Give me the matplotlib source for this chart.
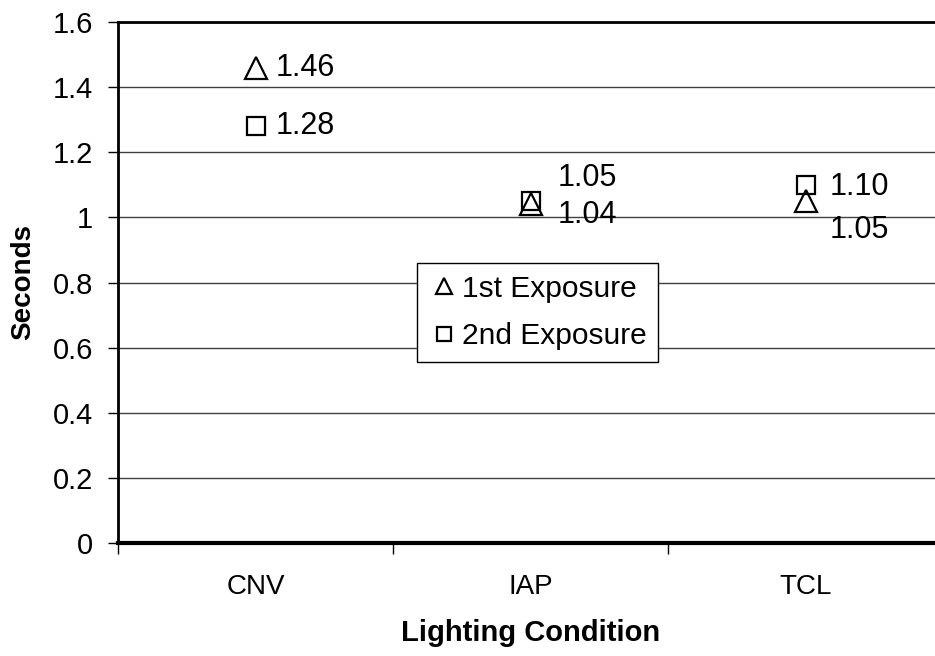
import matplotlib
matplotlib.use("Agg")
import matplotlib.pyplot as plt

plt.rcParams["font.family"] = ["Liberation Sans", "DejaVu Sans"]

conditions = ["CNV", "IAP", "TCL"]
first_exposure = [1.46, 1.04, 1.05]
second_exposure = [1.28, 1.05, 1.10]
y_ticks = [0, 0.2, 0.4, 0.6, 0.8, 1, 1.2, 1.4, 1.6]
y_tick_labels = ["0", "0.2", "0.4", "0.6", "0.8", "1", "1.2", "1.4", "1.6"]

W, H = 935, 656
fig = plt.figure(figsize=(W / 100, H / 100), dpi=100)
ax = fig.add_axes([118 / W, (H - 543) / H, (943 - 118) / W, (543 - 22) / H])

xs = list(range(len(conditions)))

ax.plot(xs, second_exposure, linestyle="none", marker="s", markersize=13,
        markerfacecolor="white", markeredgecolor="black", markeredgewidth=1.6,
        label="2nd Exposure", zorder=3)
ax.plot(xs, first_exposure, linestyle="none", marker="^", markersize=16,
        markerfacecolor="none", markeredgecolor="black", markeredgewidth=1.6,
        label="1st Exposure", zorder=4)

# data labels (offsets in pixels, mimic Excel placement)
first_offsets = [(20, 0), (27, -11), (24, -29)]
second_offsets = [(20, 0), (27, 23), (24, -2)]
for x, v, off in zip(xs, first_exposure, first_offsets):
    ax.annotate(f"{v:.2f}", (x, v), xytext=off, textcoords="offset pixels",
                ha="left", va="center", fontsize=22)
for x, v, off in zip(xs, second_exposure, second_offsets):
    ax.annotate(f"{v:.2f}", (x, v), xytext=off, textcoords="offset pixels",
                ha="left", va="center", fontsize=22)

ax.set_xlim(-0.5, 2.5)
ax.set_ylim(0, 1.6)
ax.set_yticks(y_ticks)
ax.set_yticklabels(y_tick_labels, fontsize=21)
ax.tick_params(axis="y", direction="out", length=7, width=1, pad=11)

# category boundaries as major ticks, names as minor ticks
ax.set_xticks([-0.5, 0.5, 1.5])
ax.set_xticklabels([])
ax.tick_params(axis="x", which="major", direction="out", length=8, width=1)
ax.set_xticks(xs, minor=True)
ax.set_xticklabels(conditions, minor=True, fontsize=20)
ax.tick_params(axis="x", which="minor", length=0, pad=22)

ax.yaxis.grid(True, color="#404040", linewidth=1)
ax.set_axisbelow(True)

for side in ["left", "top"]:
    ax.spines[side].set_linewidth(2)
ax.spines["bottom"].set_linewidth(3)
ax.spines["right"].set_visible(False)

ax.set_ylabel("Seconds", fontsize=20, fontweight="bold")
ax.yaxis.set_label_coords((36 - 118) / (943 - 118), 0.5)
ax.set_xlabel("Lighting Condition", fontsize=21, fontweight="bold", labelpad=14)

handles, labels = ax.get_legend_handles_labels()
leg = ax.legend(handles[::-1], labels[::-1], loc="upper left",
                bbox_to_anchor=(417 / W, 1 - 263 / H),
                bbox_transform=fig.transFigure, fontsize=21.5, frameon=True,
                fancybox=False, edgecolor="black", framealpha=1,
                handletextpad=0.1, handlelength=1.0, borderpad=0.4,
                markerscale=0.75, labelspacing=0.65, borderaxespad=0)
leg.get_frame().set_linewidth(1)

fig.savefig("out.png", dpi=100, facecolor="white")
